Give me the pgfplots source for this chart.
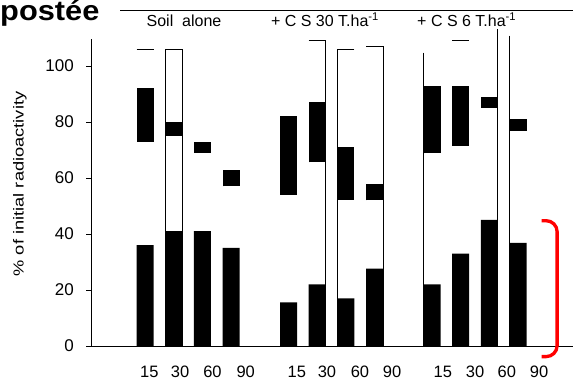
\documentclass[border=0pt]{standalone}
\usepackage{pgfplots}
\pgfplotsset{compat=1.18}
\usepackage{fontspec}
\setmainfont{Liberation Sans}
\begin{document}
\begin{tikzpicture}
\useasboundingbox (0,0) rectangle (573pt,380pt);
% title fragment and group headings
\node[anchor=base west, inner sep=0pt, font=\fontsize{28}{28}\selectfont\bfseries] at (0pt,359pt) {\scalebox{1.1}[1]{postée}};
\draw[line width=0.8pt] (120pt,369.3pt) -- (573pt,369.3pt);
\node[anchor=base, inner sep=0pt, font=\fontsize{16}{16}\selectfont] at (184pt,353.3pt) {Soil\ \ alone};
\node[anchor=base, inner sep=0pt, font=\fontsize{16}{16}\selectfont] at (325pt,353.3pt) {+ C S 30 T.ha\textsuperscript{-1}};
\node[anchor=base, inner sep=0pt, font=\fontsize{16}{16}\selectfont] at (466.7pt,353.3pt) {+ C S 6 T.ha\textsuperscript{-1}};
\node[rotate=90, inner sep=0pt, font=\fontsize{14.5}{14.5}\selectfont] at (20pt,196pt) {\scalebox{1.26}[1]{\% of initial radioactivity}};
\begin{axis}[
  at={(91pt,34pt)}, anchor=south west,
  scale only axis, width=482pt, height=307pt,
  xmin=-0.882, xmax=15.913, ymin=0, ymax=109.64,
  clip=false,
  axis x line=bottom, axis y line=left,
  axis line style={-, line width=0.8pt},
  ytick={0,20,40,60,80,100},
  tick align=outside, major tick length=5pt,
  ytick style={line width=0.8pt, black},
  xtick={1.15,2.22,3.35,4.51,6.29,7.34,8.49,9.61,11.38,12.5,13.61,14.73},
  xticklabels={15,30,60,90,15,30,60,90,15,30,60,90},
  x tick style={draw=none},
  xticklabel style={font=\fontsize{16.5}{16.5}\selectfont, anchor=north, inner sep=0pt, yshift=-14.5pt},
  yticklabel style={font=\fontsize{17}{17}\selectfont, anchor=east, inner sep=0pt, xshift=-12pt},
  /pgf/number format/assume math mode=true,
]
% open outline (soil alone, 30 d)
\addplot[ybar, bar width=17pt, fill=white, draw=black, line width=0.8pt] coordinates {(2,106)};
% lower black bars
\addplot[ybar, bar width=17pt, fill=black, draw=none] coordinates {
 (1,36) (2,41) (3,41) (4,35)
 (6,15.6) (7,22) (8,17) (9,27.6)
 (11,22) (12,33) (13,45) (14,36.8)};
% upper black boxes (low, high)
\addplot[black, line width=17pt] coordinates {(1,73) (1,92)};
\addplot[black, line width=17pt] coordinates {(2,75) (2,80)};
\addplot[black, line width=17pt] coordinates {(3,69) (3,72.7)};
\addplot[black, line width=17pt] coordinates {(4,57) (4,62.7)};
\addplot[black, line width=17pt] coordinates {(6,54) (6,82)};
\addplot[black, line width=17pt] coordinates {(7,65.6) (7,87)};
\addplot[black, line width=17pt] coordinates {(8,52) (8,71)};
\addplot[black, line width=17pt] coordinates {(9,52) (9,57.7)};
\addplot[black, line width=17pt] coordinates {(11,68.8) (11,93)};
\addplot[black, line width=17pt] coordinates {(12,71.5) (12,93)};
\addplot[black, line width=17pt] coordinates {(13,85) (13,88.8)};
\addplot[black, line width=17pt] coordinates {(14,76.8) (14,81)};
% thin outlines / dashes
\addplot[black, line width=0.8pt] coordinates {(0.704,106) (1.296,106)};
\addplot[black, line width=0.8pt] coordinates {(6.704,109) (7.296,109) (7.296,0)};
\addplot[black, line width=0.8pt] coordinates {(8.296,106) (7.704,106) (7.704,0)};
\addplot[black, line width=0.8pt] coordinates {(8.704,107) (9.296,107) (9.296,0)};
\addplot[black, line width=0.8pt] coordinates {(10.704,104.8) (10.704,0)};
\addplot[black, line width=0.8pt] coordinates {(11.704,109) (12.296,109)};
\addplot[black, line width=0.8pt] coordinates {(13.296,113.2) (13.296,0)};
\addplot[black, line width=0.8pt] coordinates {(13.704,110.8) (13.704,0)};
% red bracket
\draw[red, line width=3.3pt, rounded corners=11pt]
  (axis cs:14.82,44.75) -- (axis cs:15.36,44.75) -- (axis cs:15.36,-3.8) -- (axis cs:14.82,-3.8);
\end{axis}
\end{tikzpicture}
\end{document}
